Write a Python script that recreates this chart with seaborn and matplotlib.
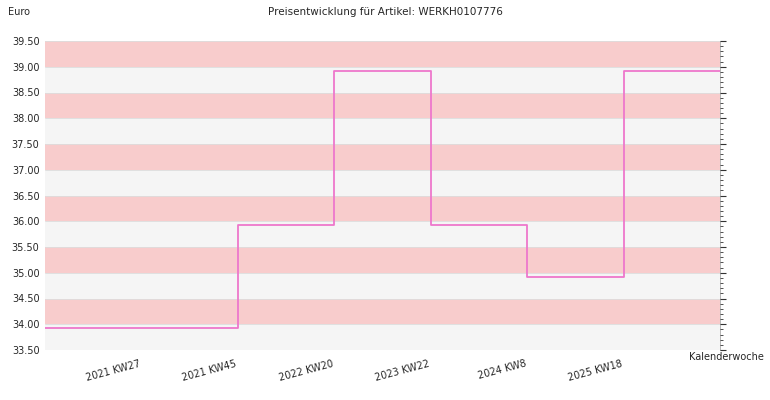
import matplotlib
matplotlib.use("Agg")
import matplotlib.pyplot as plt
import seaborn as sns
import numpy as np
import pandas as pd

weeks = [0, 1, 2, 3, 4, 5, 6, 7]
prices = [33.92, 33.92, 35.92, 38.92, 35.92, 34.92, 38.92, 38.92]
tick_pos = [1, 2, 3, 4, 5, 6]
tick_labels = ["2021 KW27", "2021 KW45", "2022 KW20", "2023 KW22", "2024 KW8", "2025 KW18"]
y_ticks = [33.5 + 0.5 * i for i in range(13)]

sns.set_style("white")
plt.rcParams['font.family'] = ['DejaVu Sans']
fig = plt.figure(figsize=(7.7, 4.0), dpi=100)
ax = fig.add_axes([45/770, 50/400, 675/770, 309/400])

for i in range(12):
    lo = 33.5 + 0.5 * i
    ax.axhspan(lo, lo + 0.5, color="#f8cccc" if i % 2 == 1 else "#f5f5f5", lw=0, zorder=0)
for t in y_ticks:
    ax.axhline(t, color="#dddddd", lw=0.6, zorder=0.5)

df = pd.DataFrame({"x": weeks, "y": prices})
sns.lineplot(data=df, x="x", y="y", drawstyle="steps-post", color="#ee77cc", lw=1.3, ax=ax)

ax.set_xlim(0, 7)
ax.set_ylim(33.5, 39.5)
ax.set_yticks(y_ticks)
ax.set_yticklabels([f"{v:.2f}" for v in y_ticks], fontsize=7)
ax.set_xticks(tick_pos)
ax.set_xticklabels(tick_labels, fontsize=7, rotation=15, ha="right")
ax.tick_params(axis="x", length=0, pad=6)
ax.tick_params(axis="y", length=0, pad=4)
ax.set_xlabel("")
ax.set_ylabel("")
for s in ax.spines.values():
    s.set_visible(False)
ax.spines["right"].set_visible(True)
ax.spines["right"].set_color("#aaaaaa")
ax.spines["right"].set_linewidth(0.6)

ax2 = ax.twinx()
ax2.set_ylim(33.5, 39.5)
ax2.set_yticks(y_ticks)
ax2.set_yticks(np.arange(33.5, 39.51, 0.1), minor=True)
ax2.set_yticklabels([])
ax2.tick_params(axis="y", which="major", length=4, color="#333333")
ax2.tick_params(axis="y", which="minor", length=2, color="#333333")
for s in ["top", "left", "bottom"]:
    ax2.spines[s].set_visible(False)
ax2.spines["right"].set_visible(False)

fig.text(8/770, 1 - 12/400, "Euro", fontsize=7, va="center")
fig.text(0.5, 1 - 12/400, "Preisentwicklung für Artikel: WERKH0107776", fontsize=7.5, ha="center", va="center")
fig.text(764/770, 1 - 357/400, "Kalenderwoche", fontsize=7, ha="right", va="center")

fig.savefig("out.png", dpi=100)
